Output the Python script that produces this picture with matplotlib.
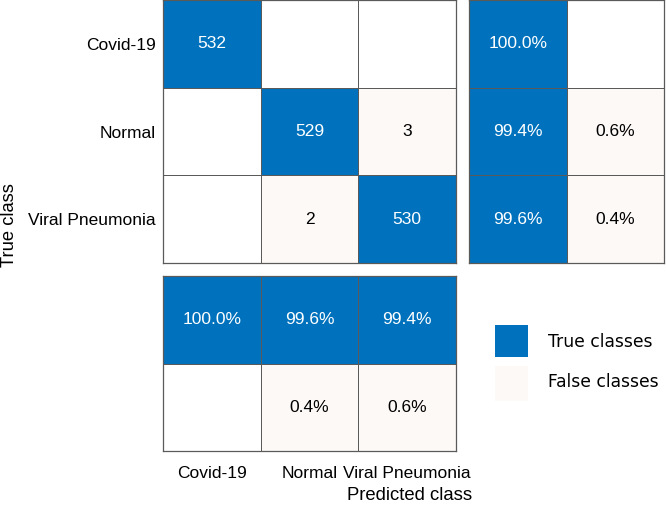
import matplotlib
matplotlib.use("Agg")
import matplotlib.pyplot as plt
import numpy as np
from matplotlib.colors import ListedColormap
from matplotlib.patches import Rectangle

plt.rcParams["font.family"] = ["Liberation Sans", "DejaVu Sans"]

CLASSES = ["Covid-19", "Normal", "Viral Pneumonia"]
COUNTS = [[532, 0, 0],
          [0, 529, 3],
          [0, 2, 530]]
# row summary (per true class): correct %, wrong %
ROW_TRUE_PCT = [100.0, 99.4, 99.6]
ROW_FALSE_PCT = [0.0, 0.6, 0.4]
# column summary (per predicted class): correct %, wrong %
COL_TRUE_PCT = [100.0, 99.6, 99.4]
COL_FALSE_PCT = [0.0, 0.4, 0.6]
LEGEND_LABELS = ["True classes", "False classes"]

BLUE = "#0072BD"
LIGHT = "#FDF9F6"
EDGE = "#5a5a5a"
cmap = ListedColormap(["white", LIGHT, BLUE])
FS = 12.5


def kind(value, is_true):
    if value == 0:
        return 0
    return 2 if is_true else 1


def draw_grid(ax, vals, kinds, fmt):
    kinds = np.array(kinds)
    nr, nc = kinds.shape
    ax.pcolormesh(np.arange(nc + 1), np.arange(nr + 1), kinds, cmap=cmap,
                  vmin=0, vmax=2, edgecolors=EDGE, linewidth=0.7)
    ax.set_xlim(0, nc)
    ax.set_ylim(nr, 0)
    for r in range(nr):
        for c in range(nc):
            v = vals[r][c]
            if v == 0:
                continue
            col = "white" if kinds[r, c] == 2 else "black"
            ax.text(c + 0.5, r + 0.5, fmt(v), ha="center", va="center",
                    color=col, fontsize=FS)
    for s in ax.spines.values():
        s.set_color(EDGE)
        s.set_linewidth(0.9)
    ax.tick_params(length=0)
    ax.set_xticks([])
    ax.set_yticks([])


W, H = 666, 505
fig = plt.figure(figsize=(W / 100, H / 100), dpi=100)


def px_axes(x0, y0, x1, y1):
    return fig.add_axes([x0 / W, 1 - y1 / H, (x1 - x0) / W, (y1 - y0) / H])


ax_main = px_axes(163, 0, 456, 263)
ax_row = px_axes(469, 0, 664, 263)
ax_col = px_axes(163, 276, 456, 451)

main_kinds = [[kind(COUNTS[r][c], r == c) for c in range(3)] for r in range(3)]
draw_grid(ax_main, COUNTS, main_kinds, lambda v: "%d" % v)
ax_main.set_yticks(np.arange(3) + 0.5)
ax_main.set_yticklabels(CLASSES, fontsize=FS)
ax_main.tick_params(axis="y", pad=5)

row_vals = [[ROW_TRUE_PCT[i], ROW_FALSE_PCT[i]] for i in range(3)]
row_kinds = [[kind(ROW_TRUE_PCT[i], True), kind(ROW_FALSE_PCT[i], False)]
             for i in range(3)]
draw_grid(ax_row, row_vals, row_kinds, lambda v: "%.1f%%" % v)

col_vals = [COL_TRUE_PCT, COL_FALSE_PCT]
col_kinds = [[kind(v, True) for v in COL_TRUE_PCT],
             [kind(v, False) for v in COL_FALSE_PCT]]
draw_grid(ax_col, col_vals, col_kinds, lambda v: "%.1f%%" % v)
ax_col.set_xticks(np.arange(3) + 0.5)
ax_col.set_xticklabels(CLASSES, fontsize=FS)
ax_col.tick_params(axis="x", pad=11)

fig.text(410 / W, 1 - 495 / H, "Predicted class", ha="center", va="center",
         fontsize=13.3)
fig.text(10 / W, 1 - 225 / H, "True class", ha="center", va="center",
         rotation=90, fontsize=13.2)

# legend: colour squares with labels, placed in pixel coordinates
for (y0, y1, yt), color, label in zip([(325, 357, 342), (366, 401, 382)],
                                      [BLUE, LIGHT], LEGEND_LABELS):
    fig.add_artist(Rectangle((495 / W, 1 - y1 / H), 33 / W, (y1 - y0) / H,
                             transform=fig.transFigure, facecolor=color,
                             edgecolor="none"))
    fig.text(548 / W, 1 - yt / H, label, ha="left", va="center",
             family="DejaVu Sans", fontsize=12.3)

fig.savefig("out.png", dpi=100)
